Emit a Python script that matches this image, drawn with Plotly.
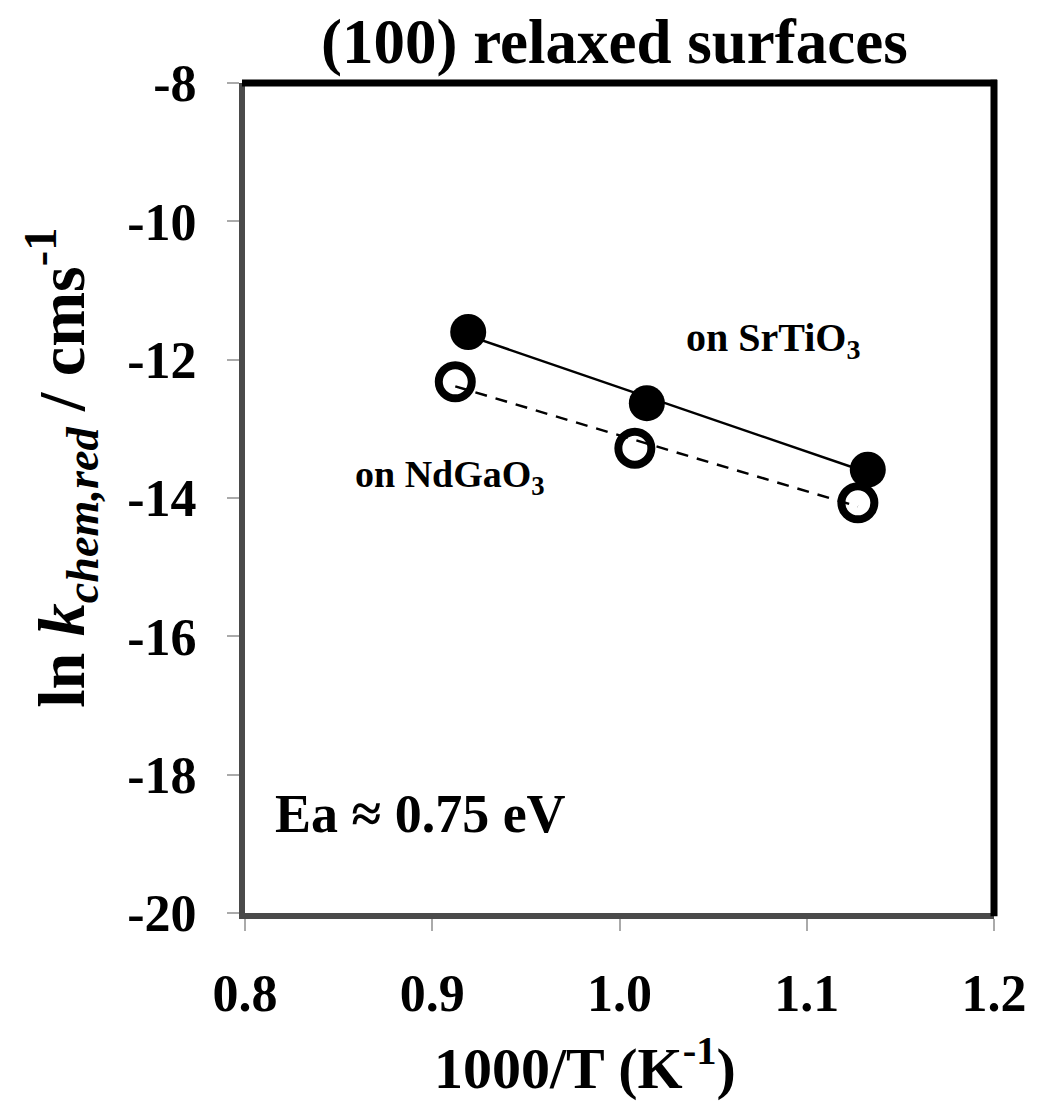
import numpy as np
import plotly.graph_objects as go

# Data
x_srtio3 = [0.9192, 1.0146, 1.1326]
y_srtio3 = [-11.60, -12.63, -13.59]
x_ndgao3 = [0.9123, 1.0082, 1.1273]
y_ndgao3 = [-12.32, -13.28, -14.07]

x_ticks = [0.8, 0.9, 1.0, 1.1, 1.2]
y_ticks = [-8, -10, -12, -14, -16, -18, -20]

FONT = "Liberation Serif"

fig = go.Figure()

# markers
fig.add_trace(go.Scatter(x=x_srtio3, y=y_srtio3, mode="markers",
                         marker=dict(symbol="circle", size=36, color="black",
                                     line=dict(width=0)),
                         showlegend=False, hoverinfo="skip"))
fig.add_trace(go.Scatter(x=x_ndgao3, y=y_ndgao3, mode="markers",
                         marker=dict(symbol="circle", size=33, color="white",
                                     line=dict(width=8, color="black")),
                         showlegend=False, hoverinfo="skip"))

# linear fits
for xs, ys, dash in [(x_srtio3, y_srtio3, "solid"), (x_ndgao3, y_ndgao3, "12px,9px")]:
    p = np.polyfit(xs, ys, 1)
    xf = np.array([min(xs), max(xs)])
    fig.add_trace(go.Scatter(x=xf, y=np.polyval(p, xf), mode="lines",
                             line=dict(color="black", width=2.5, dash=dash),
                             showlegend=False, hoverinfo="skip"))

axis_common = dict(
    showgrid=False, zeroline=False,
    showline=True, linecolor="#4a4a4a", linewidth=6,
    ticks="outside", ticklen=12, tickwidth=2, tickcolor="#aaaaaa",
    tickfont=dict(family=FONT, size=52, color="black", weight="bold"),
)

fig.update_xaxes(range=[0.8, 1.2], tickvals=x_ticks,
                 ticktext=[f"{v:.1f}" for v in x_ticks],
                 ticklabelstandoff=18, **axis_common)
fig.update_yaxes(range=[-20, -8], tickvals=y_ticks,
                 ticktext=[str(v) for v in y_ticks],
                 ticklabelstandoff=20, **axis_common)

# top and right frame lines (black)
fig.add_shape(type="line", xref="paper", yref="paper", x0=-0.004, x1=1.004, y0=1, y1=1,
              line=dict(color="black", width=7))
fig.add_shape(type="line", xref="paper", yref="paper", x0=1, x1=1, y0=-0.004, y1=1.004,
              line=dict(color="black", width=7))

bold = dict(family=FONT, color="black", weight="bold")

annotations = [
    dict(text="(100) relaxed surfaces", xref="paper", yref="paper", x=0.493, y=1.049,
         xanchor="center", yanchor="middle", font=dict(size=63, **bold)),
    dict(text="1000/T (K<sup>-1</sup>)", xref="paper", yref="paper", x=0.454, y=-0.183,
         xanchor="center", yanchor="middle", font=dict(size=58, **bold)),
    dict(text="ln <i>k</i><sub><i>chem,red</i></sub> / cms<sup>-1</sup>", xref="paper", yref="paper",
         x=-0.245, y=0.537, textangle=-90, xanchor="center", yanchor="middle",
         font=dict(size=66, **bold)),
    dict(text="on SrTiO<sub>3</sub>", x=1.0819, y=-11.72, xanchor="center", yanchor="middle",
         font=dict(size=40, **bold)),
    dict(text="on NdGaO<sub>3</sub>", x=0.9097, y=-13.70, xanchor="center", yanchor="middle",
         font=dict(size=38, **bold)),
    dict(text="Ea ≈ 0.75 eV", x=0.8938, y=-18.57, xanchor="center", yanchor="middle",
         font=dict(size=54, **bold)),
]
for a in annotations:
    a["showarrow"] = False
    fig.add_annotation(**a)

fig.update_layout(
    width=1039, height=1105,
    margin=dict(l=245, r=39, t=83, b=192, pad=0),
    plot_bgcolor="white", paper_bgcolor="white",
)

fig.write_html("out.html")
